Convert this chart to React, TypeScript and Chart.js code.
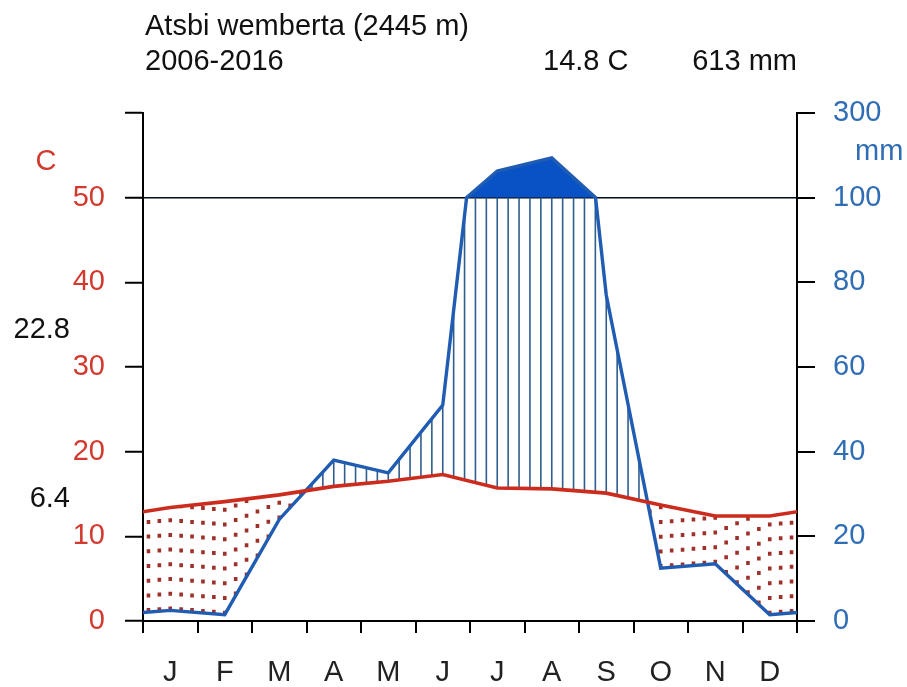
import React, { useEffect, useRef } from 'react';
import { Chart, registerables } from 'chart.js';

Chart.register(...registerables);

// ---- data ----
const MONTHS = ['J', 'F', 'M', 'A', 'M', 'J', 'J', 'A', 'S', 'O', 'N', 'D'];
const TEMPERATURE = [13.4, 14.1, 14.9, 15.9, 16.5, 17.3, 15.7, 15.6, 15.1, 13.7, 12.4, 12.4];
const PRECIPITATION = [2.5, 1.5, 24, 38, 35, 51, 163, 194, 77, 12.5, 13.5, 1.5];
const TEMP_TICK_LABELS = ['0', '10', '20', '30', '40', '50', ''];
const PREC_TICK_LABELS = ['0', '20', '40', '60', '80', '100', '300'];
const STATION = 'Atsbi wemberta (2445 m)';
const PERIOD = '2006-2016';
const MEAN_TEMP_LABEL = '14.8 C';
const ANNUAL_PREC_LABEL = '613 mm';
const MAX_TEMP_LABEL = '22.8';
const MIN_TEMP_LABEL = '6.4';

// ---- styles ----
const FONT = "'Liberation Sans', Arial, sans-serif";
const FS = 29;
const TCOL = '#cc2c1e';
const TLABEL = '#d23a30';
const PLINE = '#1f5cb2';
const PLABEL = '#2f6db5';
const PFILL = '#0852c6';
const HATCH = '#2f5d8c';
const DOT = '#9e302a';

// Walter-Lieth precipitation scaling: 2 mm per deg C up to 100 mm, 20 mm per deg C above
const scaleP = (p: number) => (p <= 100 ? p / 2 : 50 + (p - 100) / 20);
const wrap = (a: number[]) => [a[11], ...a, a[0]];
const WRAP_X = [-0.5, ...MONTHS.map((_, i) => i + 0.5), 12.5];

function valueAt(a: number[], xv: number) {
  const w = wrap(a);
  const t = xv + 0.5;
  const i = Math.min(Math.floor(t), 12);
  const f = t - i;
  return w[i] * (1 - f) + w[i + 1] * f;
}

function tempPoints() {
  return wrap(TEMPERATURE).map((v, i) => ({ x: WRAP_X[i], y: v }));
}

function precipPoints() {
  const w = wrap(PRECIPITATION);
  const pts: { x: number; y: number }[] = [];
  for (let i = 0; i < w.length; i++) {
    pts.push({ x: WRAP_X[i], y: scaleP(w[i]) });
    if (i < w.length - 1 && (w[i] - 100) * (w[i + 1] - 100) < 0) {
      const f = (100 - w[i]) / (w[i + 1] - w[i]);
      pts.push({ x: WRAP_X[i] + f, y: 50 });
    }
  }
  return pts;
}

const walterLieth = {
  id: 'walterLieth',
  beforeDatasetsDraw(chart: any) {
    const { ctx, chartArea } = chart;
    const x = chart.scales.x;
    const y = chart.scales.y;
    ctx.save();
    ctx.beginPath();
    ctx.rect(chartArea.left, chartArea.top, chartArea.right - chartArea.left, chartArea.bottom - chartArea.top);
    ctx.clip();
    for (let j = 0; j < 60; j++) {
      const xv = 0.1 + 0.2 * j;
      const t = valueAt(TEMPERATURE, xv);
      const p = valueAt(PRECIPITATION, xv);
      const px = x.getPixelForValue(xv);
      const yt = y.getPixelForValue(t);
      const yp = y.getPixelForValue(Math.min(p / 2, 50));
      ctx.beginPath();
      if (p / 2 > t) {
        ctx.setLineDash([]);
        ctx.lineWidth = 1.6;
        ctx.strokeStyle = HATCH;
        ctx.moveTo(px, yt);
        ctx.lineTo(px, yp);
        ctx.stroke();
      } else if (p / 2 < t) {
        ctx.setLineDash([4, 10.7]);
        ctx.lineCap = 'butt';
        ctx.lineWidth = 3.6;
        ctx.strokeStyle = DOT;
        ctx.moveTo(px, yp);
        ctx.lineTo(px, yt);
        ctx.stroke();
      }
    }
    ctx.restore();
  },
  afterDraw(chart: any) {
    const { ctx } = chart;
    ctx.save();
    ctx.font = `${FS}px ${FONT}`;
    ctx.textBaseline = 'alphabetic';
    ctx.fillStyle = '#111';
    ctx.textAlign = 'left';
    ctx.fillText(STATION, 145, 35);
    ctx.fillText(PERIOD, 145, 70);
    ctx.fillText(MEAN_TEMP_LABEL, 543, 70);
    ctx.textAlign = 'right';
    ctx.fillText(ANNUAL_PREC_LABEL, 797, 70);
    ctx.fillText(MAX_TEMP_LABEL, 70, 338);
    ctx.fillText(MIN_TEMP_LABEL, 70, 507);
    ctx.textAlign = 'center';
    ctx.fillStyle = TLABEL;
    ctx.fillText('C', 46, 170);
    ctx.textAlign = 'left';
    ctx.fillStyle = PLABEL;
    ctx.fillText('mm', 855, 160);
    ctx.restore();
  },
};

export default function App() {
  const ref = useRef<HTMLCanvasElement | null>(null);
  useEffect(() => {
    document.body.style.margin = '0';
    document.body.style.overflow = 'hidden';
    if (!ref.current) return;
    Chart.defaults.font.family = FONT;
    Chart.defaults.font.size = FS;
    const chart = new Chart(ref.current, {
      type: 'line',
      data: {
        datasets: [
          {
            label: 'Temperature',
            data: tempPoints(),
            borderColor: TCOL,
            borderWidth: 3.6,
            pointRadius: 0,
            fill: false,
            order: 0,
          },
          {
            label: 'Precipitation',
            data: precipPoints(),
            borderColor: PLINE,
            borderWidth: 3.4,
            pointRadius: 0,
            fill: { target: { value: 50 }, above: PFILL, below: 'rgba(0,0,0,0)' },
            order: 1,
          },
        ],
      },
      options: {
        animation: false,
        responsive: false,
        layout: { padding: { top: 113, left: 0, right: 0, bottom: 0 } },
        plugins: { legend: { display: false }, tooltip: { enabled: false }, title: { display: false } },
        scales: {
          x: {
            type: 'linear',
            min: 0,
            max: 12,
            afterBuildTicks: (s: any) => {
              s.ticks = MONTHS.map((_, i) => ({ value: i + 0.5 }));
            },
            afterFit: (s: any) => {
              s.height = 66;
            },
            ticks: {
              autoSkip: false,
              maxRotation: 0,
              color: '#222',
              padding: 23,
              font: { size: FS, family: FONT },
              callback: (_v: any, i: number) => MONTHS[i],
            },
            grid: { offset: true, drawOnChartArea: false, color: '#000', tickLength: 12, lineWidth: 2 },
            border: { color: '#000', width: 2 },
          },
          y: {
            position: 'left',
            min: 0,
            max: 60,
            afterFit: (s: any) => {
              s.width = 143;
            },
            ticks: {
              stepSize: 10,
              color: TLABEL,
              padding: 20,
              font: { size: FS, family: FONT },
              callback: (_v: any, i: number) => TEMP_TICK_LABELS[i],
            },
            grid: {
              drawOnChartArea: true,
              color: (c: any) => (c.tick && c.tick.value === 50 ? '#000' : 'rgba(0,0,0,0)'),
              lineWidth: 1.5,
              tickColor: '#000',
              tickWidth: 2,
              tickLength: 18,
            },
            border: { color: '#000', width: 2 },
          },
          y2: {
            position: 'right',
            min: 0,
            max: 60,
            afterFit: (s: any) => {
              s.width = 110;
            },
            ticks: {
              stepSize: 10,
              color: PLABEL,
              padding: 18,
              font: { size: FS, family: FONT },
              callback: (_v: any, i: number) => PREC_TICK_LABELS[i],
            },
            grid: { drawOnChartArea: false, color: '#000', tickLength: 18, lineWidth: 2 },
            border: { color: '#000', width: 2 },
          },
        },
      },
      plugins: [walterLieth],
    } as any);
    return () => chart.destroy();
  }, []);
  return (
    <div style={{ width: 907, height: 687, background: '#fff' }}>
      <canvas ref={ref} width={907} height={687} style={{ display: 'block' }} />
    </div>
  );
}
